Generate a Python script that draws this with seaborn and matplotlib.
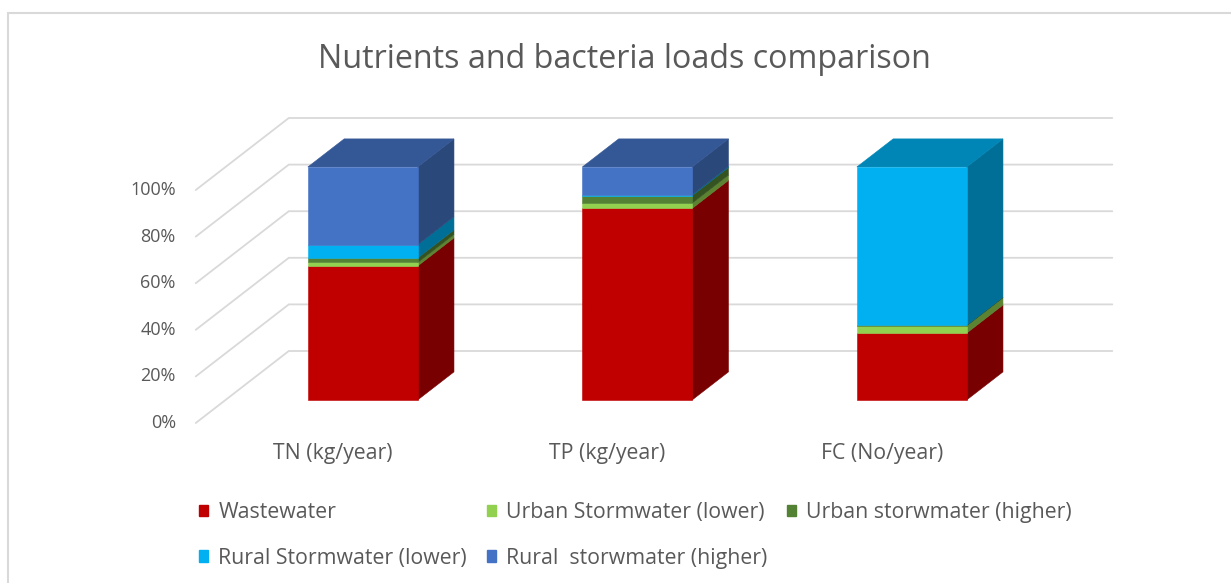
import numpy as np
import matplotlib
matplotlib.use('Agg')
import matplotlib.pyplot as plt
import seaborn as sns
from matplotlib.patches import Polygon, Patch, Rectangle
from matplotlib.colors import to_rgb

# chart data (percent of total load per parameter)
categories = ['TN (kg/year)', 'TP (kg/year)', 'FC (No/year)']
series_names = ['Wastewater', 'Urban Stormwater (lower)', 'Urban storwmater (higher)',
                'Rural Stormwater (lower)', 'Rural  storwmater (higher)']
wastewater = [57.5, 82.2, 28.7]
urban_lower = [1.5, 2.3, 3.1]
urban_higher = [1.9, 3.2, 0.2]
rural_lower = [5.7, 0.4, 68.0]
rural_higher = [33.4, 11.9, 0.0]
y_ticks = [0, 20, 40, 60, 80, 100]
y_tick_labels = ['0%', '20%', '40%', '60%', '80%', '100%']
series_colors = ['#C00000', '#92D050', '#548235', '#00B0F0', '#4472C4']
title = 'Nutrients and bacteria loads comparison'

series = [wastewater, urban_lower, urban_higher, rural_lower, rural_higher]

sns.set_theme(style='white')
plt.rcParams['font.family'] = ['Open Sans', 'DejaVu Sans']
TXT = '#595959'
GRID = '#D9D9D9'

# pseudo 3d layout: pixel scale and oblique depth
W_PX, H_PX = 1231, 583
PX_X, PX_Y = 274.5, 2.33
OX, OY = 333, 423
DX, DY = 0.339, 30.9      # full floor depth in data units
D0, D1 = 0.32, 0.71       # bar front / back depth
BW = 0.40


def shade(c, f):
    r, g, b = to_rgb(c)
    return (r * f, g * f, b * f)


def proj(x, y, d):
    return (x + d * DX, y + d * DY)


fig = plt.figure(figsize=(W_PX / 100, H_PX / 100), dpi=100)
ax = fig.add_axes([0, 0, 1, 1])
ax.set_xlim(-OX / PX_X, (W_PX - OX) / PX_X)
ax.set_ylim((OY - H_PX) / PX_Y, OY / PX_Y)
ax.axis('off')

# walls
for y, lab in zip(y_ticks, y_tick_labels):
    p0, p1, p2 = proj(-0.5, y, 0), proj(-0.5, y, 1), proj(2.5, y, 1)
    ax.plot([p0[0], p1[0], p2[0]], [p0[1], p1[1], p2[1]], color=GRID, lw=1.3,
            zorder=0, solid_joinstyle='miter')
    ax.text(p0[0] - 20 / PX_X, y, lab, ha='right', va='center', fontsize=13, color=TXT)

# stacked bars
for i in range(len(categories)):
    bottom = 0.0
    vals = [s[i] for s in series]
    last = max(k for k, v in enumerate(vals) if v > 0)
    xl, xr = i - BW / 2, i + BW / 2
    for k, v in enumerate(vals):
        if v <= 0:
            continue
        c = series_colors[k]
        top = bottom + v
        ax.bar(i + D0 * DX, v, width=BW, bottom=bottom + D0 * DY, color=c,
               edgecolor=c, linewidth=0.4, zorder=3)
        side = [proj(xr, bottom, D0), proj(xr, bottom, D1), proj(xr, top, D1), proj(xr, top, D0)]
        ax.add_patch(Polygon(side, closed=True, facecolor=shade(c, 0.63),
                             edgecolor=shade(c, 0.63), lw=0.4, zorder=2))
        if k == last:
            lid = [proj(xl, top, D0), proj(xr, top, D0), proj(xr, top, D1), proj(xl, top, D1)]
            ax.add_patch(Polygon(lid, closed=True, facecolor=shade(c, 0.76),
                                 edgecolor=shade(c, 0.76), lw=0.4, zorder=2))
        bottom = top
    ax.text(i, -13, categories[i], ha='center', va='center', fontsize=15.3, color=TXT)

fig.text(0.507, 1 - 60 / H_PX, title, ha='center', va='center', fontsize=23.2, color=TXT)

# legend, row-major order like the original
handles = [Patch(facecolor=c, edgecolor=c) for c in series_colors]
order = [0, 3, 1, 4, 2]
fig.legend([handles[k] for k in order], [series_names[k] for k in order],
           ncol=3, loc='upper left', bbox_to_anchor=(199 / W_PX, 1 - 502 / H_PX),
           frameon=False, fontsize=15.3, labelcolor=TXT, handlelength=0.43,
           handleheight=0.43, handletextpad=0.48, columnspacing=0.92,
           labelspacing=1.16, borderpad=0, borderaxespad=0)

fig.patches.append(Rectangle((8 / W_PX, -0.1), 1.2, 1.1 - 13 / H_PX,
                             transform=fig.transFigure, fill=False,
                             edgecolor=GRID, lw=1.5))

fig.savefig('out.png', dpi=100)
